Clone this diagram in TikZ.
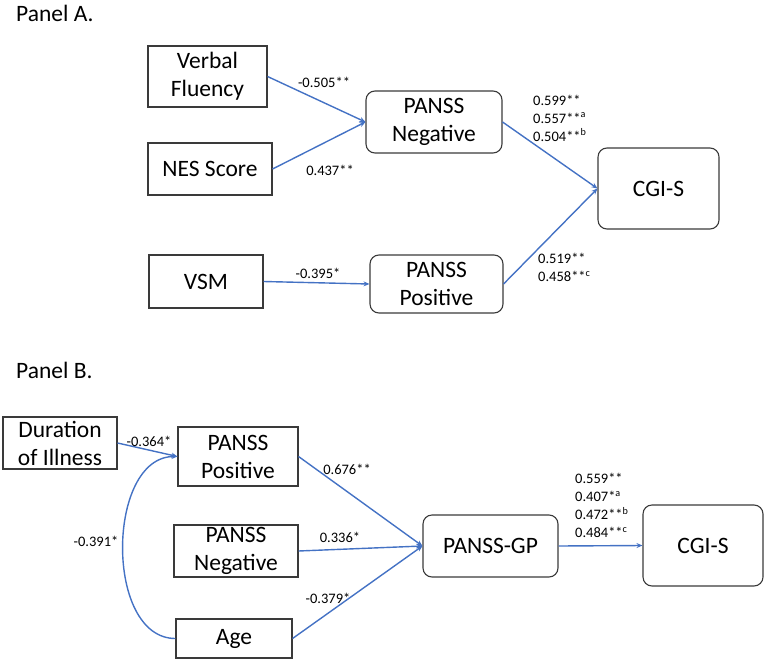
\documentclass[tikz,border=0pt]{standalone}
\usepackage{fontspec}
\setmainfont{Carlito}
\usepackage{xcolor}
\usepackage{tikz}
\usetikzlibrary{positioning,arrows.meta,calc}
\definecolor{pathblue}{HTML}{4472C4}
\definecolor{boxgray}{HTML}{3A3A3A}

\begin{document}
\begin{tikzpicture}[
  x=1pt, y=-1pt,
  font=\fontsize{23.5}{28}\selectfont,
  var/.style={draw=boxgray, line width=1.1pt, align=center, inner sep=0pt},
  med/.style={var, rounded corners=9pt},
  coef/.style={font=\fontsize{14.5}{18}\selectfont, align=left, inner sep=0pt},
  arr/.style={-{Stealth[length=6pt,width=5pt]}, pathblue, line width=1.4pt},
]
\useasboundingbox (0,0) rectangle (767,663);
% Panel A
\node[anchor=west, inner sep=0pt] (ta) at (16,13) {Panel A.};
\node[var, minimum width=119pt, minimum height=61pt] (vf) at (207.5,76.5) {Verbal\\Fluency};
\node[var, minimum width=124pt, minimum height=52pt] (nes) at (210,169) {NES Score};
\node[var, minimum width=114pt, minimum height=53pt] (vsm) at (206,281.5) {VSM};
\node[med, minimum width=136pt, minimum height=62pt] (negA) at (434,122) {PANSS\\Negative};
\node[med, minimum width=133pt, minimum height=58pt] (posA) at (436.5,284) {PANSS\\Positive};
\node[med, minimum width=121pt, minimum height=81pt] (cgiA) at (658.5,188.5) {CGI-S};
\draw[arr] (vf.east) -- (negA.west);
\draw[arr] (nes.east) -- (negA.west);
\draw[arr] (vsm.east) -- (posA.west);
\draw[arr] (negA.east) -- (cgiA.west);
\draw[arr] (posA.east) -- (cgiA.west);
\node[coef] (c1) at (324,82) {-0.505**};
\node[coef] (c2) at (330,170) {0.437**};
\node[coef] (c3) at (318,273) {-0.395*};
\node[coef, anchor=west] (c4) at (533,118) {0.599**\\0.557**\textsuperscript{a}\\0.504**\textsuperscript{b}};
\node[coef, anchor=west] (c5) at (538,267.5) {0.519**\\0.458**\textsuperscript{c}};
% Panel B
\node[anchor=west, inner sep=0pt] (tb) at (16,370) {Panel B.};
\node[var, minimum width=114pt, minimum height=52pt] (dur) at (60,443) {Duration\\of Illness};
\node[var, minimum width=120pt, minimum height=59pt] (posB) at (238,456.5) {PANSS\\Positive};
\node[var, minimum width=124pt, minimum height=52pt] (negB) at (236,551) {PANSS\\Negative};
\node[var, minimum width=116pt, minimum height=39pt] (age) at (234,638.5) {Age};
\node[med, minimum width=135pt, minimum height=62pt] (gp) at (490.5,546) {PANSS-GP};
\node[med, minimum width=120pt, minimum height=81pt] (cgiB) at (703,545.5) {CGI-S};
\draw[arr] (dur.east) -- (posB.west);
\draw[arr] (age.west) to[out=180, in=180, looseness=1] (posB.west);
\foreach \v in {posB,negB,age} \draw[arr] (\v.east) -- (gp.west);
\draw[arr] (gp.east) -- (cgiB.west);
\node[coef] (d1) at (149,441) {-0.364*};
\node[coef] (d2) at (96,541) {-0.391*};
\node[coef] (d3) at (347,469) {0.676**};
\node[coef] (d4) at (340,537) {0.336*};
\node[coef] (d5) at (328,598) {-0.379*};
\node[coef, anchor=west] (d6) at (575,505.5) {0.559**\\0.407*\textsuperscript{a}\\0.472**\textsuperscript{b}\\0.484**\textsuperscript{c}};
\end{tikzpicture}
\end{document}
